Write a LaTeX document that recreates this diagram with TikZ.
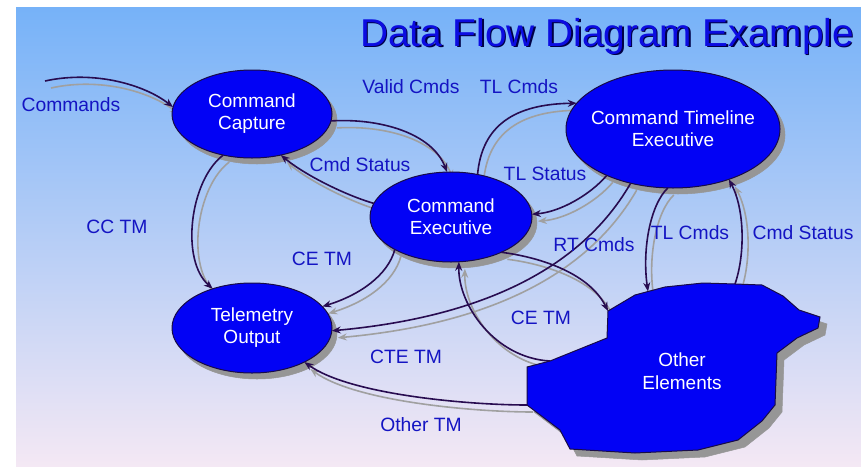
\documentclass[tikz,border=0pt]{standalone}
\usepackage{fontspec}
\setmainfont{Liberation Sans}
\usetikzlibrary{shapes.geometric,arrows.meta}
\definecolor{bgtop}{RGB}{118,178,248}
\definecolor{bgbot}{RGB}{244,232,244}
\definecolor{nodeblue}{RGB}{2,2,245}
\definecolor{nodeedge}{RGB}{24,12,70}
\definecolor{shadowgray}{RGB}{150,150,150}
\definecolor{linedark}{RGB}{40,12,80}
\definecolor{linegray}{RGB}{160,160,160}
\definecolor{labelblue}{RGB}{20,20,195}
\definecolor{titleblue}{RGB}{12,12,225}
\definecolor{titleshadow}{RGB}{0,0,70}
\pgfdeclarelayer{bglayer}
\pgfdeclarelayer{conshadow}
\pgfsetlayers{bglayer,conshadow,main}
\tikzset{
  proc/.style={ellipse, draw=nodeedge, line width=1pt, fill=nodeblue, text=white,
    inner sep=0pt, outer sep=0pt, align=center,
    font=\fontsize{19}{22}\selectfont},
  shapeshadow/.style={draw=shadowgray, fill=shadowgray, line width=0.5pt},
  flowline/.style={draw=linedark, line width=1.6pt, -{Stealth[length=9pt,width=7pt]}},
  flowshade/.style={draw=linegray, line width=1.6pt, -{Stealth[length=9pt,width=7pt]}},
  lbl/.style={text=labelblue, font=\fontsize{19.3}{22}\selectfont, inner sep=0pt},
  ttl/.style={font=\fontsize{38.8}{42}\selectfont, inner sep=0pt},
}
% #1 start, #2 first control, #3 second control, #4 end
\newcommand\flowconn[4]{%
  \begin{pgfonlayer}{conshadow}
    \draw[flowshade] ([shift={(6,7)}]#1) .. controls ([shift={(6,7)}]#2) and ([shift={(6,7)}]#3) .. ([shift={(6,7)}]#4);
  \end{pgfonlayer}
  \draw[flowline] (#1) .. controls (#2) and (#3) .. (#4);}
\newcommand\titletext{Data Flow Diagram Example}
\begin{document}
\begin{tikzpicture}[x=1pt,y=-1pt]
\useasboundingbox (0,0) rectangle (861,466);
\begin{pgfonlayer}{bglayer}
  \filldraw[draw=white, fill=white] (0,0) rectangle (861,466);
  \shade[top color=bgtop, bottom color=bgbot] (16,7) rectangle (861,466);
\end{pgfonlayer}

% shadows of the shapes
\filldraw[shapeshadow] (257,120) ellipse [x radius=80, y radius=44];
\filldraw[shapeshadow] (456,223) ellipse [x radius=81, y radius=45];
\filldraw[shapeshadow] (678,135) ellipse [x radius=107, y radius=59];
\filldraw[shapeshadow] (257,334) ellipse [x radius=80, y radius=45];
\filldraw[shapeshadow]
  (615,318) -- (642,302) -- (655,298.5) -- (672,294)
  -- (710,290) -- (742,291) -- (769,292) -- (790,303) -- (806,317)
  -- (827,324) -- (825,335) -- (804,345) -- (784,360) -- (782,412) -- (769,428)
  -- (745,447) -- (705,457) -- (642,460) -- (577,456) -- (567,437)
  -- (534,412) -- (534,374) -- (557,368) -- (614,345) -- cycle;

% title (with its text shadow)
\node[ttl] (title) at (607,37) {\makebox[0pt][l]{\hspace{1.6pt}\raisebox{-1.6pt}{\textcolor{titleshadow}{\titletext}}}\textcolor{titleblue}{\titletext}};

% processes
\node[proc, minimum width=160pt, minimum height=88pt] (cc) at (252,114) {Command\\Capture};
\node[proc, minimum width=162pt, minimum height=90pt] (ce) at (451,217) {Command\\Executive};
\node[proc, inner xsep=-12pt, minimum width=214pt, minimum height=118pt] (cte) at (673,129) {Command Timeline\\Executive};
\node[proc, minimum width=160pt, minimum height=90pt] (to) at (252,328) {Telemetry\\Output};

% other elements blob
\draw[draw=nodeedge, line width=1pt, fill=nodeblue]
  (608,311) coordinate (oeRT) -- (635,295) -- (648,291.5) coordinate (oeTL) -- (665,287)
  -- (703,283) -- (735,284) coordinate (oeCS) -- (762,285) -- (783,296) -- (799,310)
  -- (820,317) -- (818,328) -- (797,338) -- (777,353) -- (775,405) -- (762,421)
  -- (738,440) -- (698,450) -- (635,453) -- (570,449) -- (560,430)
  -- (527,405) coordinate (oeOT) -- (527,367) -- (550,361) coordinate (oeCE)
  -- (607,338) -- cycle;
\node[text=white, align=center, font=\fontsize{19}{23}\selectfont, inner sep=0pt] (oe) at (682,371) {Other\\Elements};

% free start of Commands
\coordinate (cmdin) at (45,81);

% connectors
\flowconn{cmdin}{95,70}{145,85}{cc.175}
\flowconn{cc.-5}{380,118}{432,133}{ce.95}
\flowconn{ce.170}{345,195}{305,175}{cc.-55}
\flowconn{cc.-125}{190,180}{180,260}{to.135}
\flowconn{ce.-150}{388,275}{360,295}{to.17}
\flowconn{cte.-128}{572,285}{450,320}{to.-2}
\flowconn{oeOT}{470,405}{350,395}{to.-33}
\flowconn{ce.58}{482,125}{515,104}{cte.165}
\flowconn{cte.-145}{590,195}{560,212}{ce.2}
\flowconn{ce.-35}{545,258}{590,275}{oeRT}
\flowconn{oeCE}{495,358}{458,305}{ce.-80}
\flowconn{cte.-95}{650,205}{642,250}{oeTL}
\flowconn{oeCS}{745,255}{745,210}{cte.-42}

% labels
\node[lbl] (lcmds) at (71,105) {Commands};
\node[lbl] (lvalid) at (411,87) {Valid Cmds};
\node[lbl] (ltlc1) at (519,87) {TL Cmds};
\node[lbl] (lcs1) at (360,165) {Cmd Status};
\node[lbl] (ltls) at (545,174) {TL Status};
\node[lbl] (lcctm) at (117,227) {CC TM};
\node[lbl] (lcetm1) at (322,259) {CE TM};
\node[lbl] (lrt) at (594,245) {RT Cmds};
\node[lbl] (ltlc2) at (690,233) {TL Cmds};
\node[lbl] (lcs2) at (803,233) {Cmd Status};
\node[lbl] (lcetm2) at (541,318) {CE TM};
\node[lbl] (lctetm) at (406,357) {CTE TM};
\node[lbl] (lothtm) at (421,425) {Other TM};
\end{tikzpicture}
\end{document}
